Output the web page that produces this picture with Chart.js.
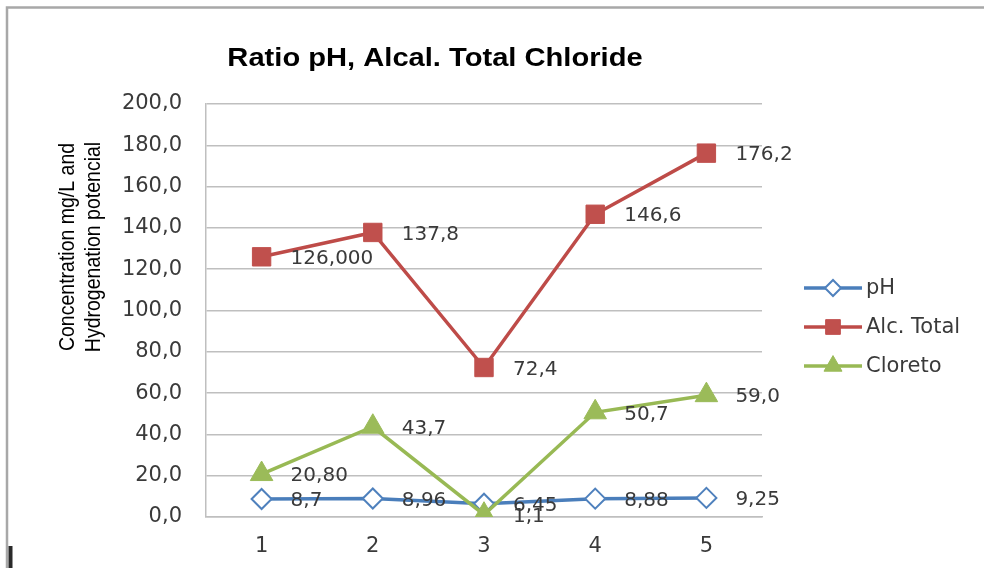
<!DOCTYPE html>
<html><head><meta charset="utf-8">
<script src="https://cdn.jsdelivr.net/npm/chart.js@4.4.1/dist/chart.umd.min.js"></script>
<style>html,body{margin:0;padding:0;background:#fff;overflow:hidden}#wrap{width:984px;height:568px;position:relative}</style>
</head><body><div id="wrap"><canvas id="c" width="984" height="568"></canvas></div>
<script>
// ---- data ----
const categories = ['1', '2', '3', '4', '5'];
const seriesNames = ['pH', 'Alc. Total', 'Cloreto'];
const phValues = [8.7, 8.96, 6.45, 8.88, 9.25];
const alcValues = [126.0, 137.8, 72.4, 146.6, 176.2];
const cloretoValues = [20.8, 43.7, 1.1, 50.7, 59.0];
const phLabels = ['8,7', '8,96', '6,45', '8,88', '9,25'];
const alcLabels = ['126,000', '137,8', '72,4', '146,6', '176,2'];
const cloretoLabels = ['20,80', '43,7', '1,1', '50,7', '59,0'];
const chartTitle = 'Ratio pH, Alcal. Total Chloride';
const yAxisTitle = ['Concentration mg/L and', 'Hydrogenation potencial'];
const yMin = 0, yMax = 200, yStep = 20;

// ---- styles ----
const TEXT = '#3a3a3a';
const GRID = '#bfbfbf';
const tickFont = {family: 'DejaVu Sans', size: 21};
const styles = [
  {line: '#4a7ebb', fill: '#ffffff', border: '#4f81bd', style: 'rectRot', radius: 10, bw: 2},
  {line: '#be4b48', fill: '#c0504d', border: '#c0504d', style: 'rect', radius: 13, bw: 1},
  {line: '#98b954', fill: '#9bbb59', border: '#9bbb59', style: 'triangle', radius: 13, bw: 1}
];
const labelSets = [phLabels, alcLabels, cloretoLabels];

function ds(i, data) {
  const s = styles[i];
  return {
    label: seriesNames[i], data: data,
    borderColor: s.line, borderWidth: 3.5, tension: 0,
    pointStyle: s.style, pointRadius: s.radius, pointHoverRadius: s.radius,
    pointBackgroundColor: s.fill, pointBorderColor: s.border, pointBorderWidth: s.bw,
    order: 3 - i
  };
}

const framePlugin = {
  id: 'frame',
  beforeDraw(chart) {
    const ctx = chart.ctx;
    ctx.save();
    ctx.fillStyle = '#ffffff';
    ctx.fillRect(0, 0, chart.width, chart.height);
    ctx.strokeStyle = '#a8a8a8';
    ctx.lineWidth = 2.5;
    ctx.strokeRect(7, 7.5, 1100, 700);
    ctx.fillStyle = '#2a2a2a';
    ctx.fillRect(8.5, 546, 4, 22);
    ctx.restore();
  }
};

const labelPlugin = {
  id: 'dlabels',
  afterDatasetsDraw(chart) {
    const ctx = chart.ctx;
    ctx.save();
    ctx.font = '20px "DejaVu Sans"';
    ctx.fillStyle = TEXT;
    ctx.textAlign = 'left';
    ctx.textBaseline = 'middle';
    chart.data.datasets.forEach((d, i) => {
      const meta = chart.getDatasetMeta(i);
      meta.data.forEach((pt, j) => {
        ctx.fillText(labelSets[i][j], pt.x + 29, pt.y + 2);
      });
    });
    ctx.restore();
  }
};

const textPlugin = {
  id: 'texts',
  afterDraw(chart) {
    const ctx = chart.ctx;
    // main title
    ctx.save();
    ctx.font = 'bold 26px "Liberation Sans"';
    ctx.fillStyle = '#000000';
    ctx.textAlign = 'center';
    ctx.textBaseline = 'alphabetic';
    ctx.translate(435, 66);
    ctx.scale(1.12, 1);
    ctx.fillText(chartTitle, 0, 0);
    ctx.restore();
    // y axis title
    ctx.save();
    ctx.font = '19.5px "Liberation Sans"';
    ctx.fillStyle = '#000000';
    ctx.textAlign = 'center';
    ctx.textBaseline = 'middle';
    ctx.translate(68, 247);
    ctx.rotate(-Math.PI / 2);
    yAxisTitle.forEach((t, k) => {
      ctx.save();
      ctx.translate(0, k * 26);
      ctx.scale(1, 1.15);
      ctx.fillText(t, 0, 0);
      ctx.restore();
    });
    ctx.restore();
    // legend
    ctx.save();
    const lx0 = 804, lx1 = 862, ys = [288, 327, 366];
    ctx.font = '21px "DejaVu Sans"';
    ctx.textAlign = 'left';
    ctx.textBaseline = 'middle';
    chart.data.datasets.forEach((d, i) => {
      const s = styles[i];
      const y = ys[i];
      ctx.strokeStyle = s.line;
      ctx.lineWidth = 3.5;
      ctx.beginPath();
      ctx.moveTo(lx0, y); ctx.lineTo(lx1, y);
      ctx.stroke();
      ctx.fillStyle = s.fill;
      ctx.strokeStyle = s.border;
      ctx.lineWidth = s.bw;
      Chart.helpers.drawPoint(ctx, {pointStyle: s.style, radius: s.radius * 0.8, rotation: 0, borderWidth: s.bw}, (lx0 + lx1) / 2, y);
      ctx.fillStyle = TEXT;
      ctx.fillText(d.label, lx1 + 4, y + 1);
    });
    ctx.restore();
  }
};

new Chart(document.getElementById('c'), {
  type: 'line',
  data: {
    labels: categories,
    datasets: [ds(0, phValues), ds(1, alcValues), ds(2, cloretoValues)]
  },
  options: {
    responsive: false,
    animation: false,
    devicePixelRatio: 1,
    layout: {padding: {left: 0, top: 104, right: 222, bottom: 0}},
    plugins: {legend: {display: false}, title: {display: false}, tooltip: {enabled: false}},
    scales: {
      x: {
        type: 'category', offset: true,
        grid: {display: false, drawTicks: false},
        border: {display: true, color: GRID, width: 1.5},
        ticks: {font: tickFont, color: TEXT, padding: 17},
        afterFit(scale) { scale.height = 51; }
      },
      y: {
        min: yMin, max: yMax,
        grid: {color: GRID, lineWidth: 1.5, drawTicks: false},
        border: {display: true, color: GRID, width: 1.5},
        ticks: {
          stepSize: yStep, font: tickFont, color: TEXT, padding: 24,
          callback: (v) => Number(v).toFixed(1).replace('.', ',')
        },
        afterFit(scale) { scale.width = 206; }
      }
    }
  },
  plugins: [framePlugin, labelPlugin, textPlugin]
});
</script>
</body></html>
